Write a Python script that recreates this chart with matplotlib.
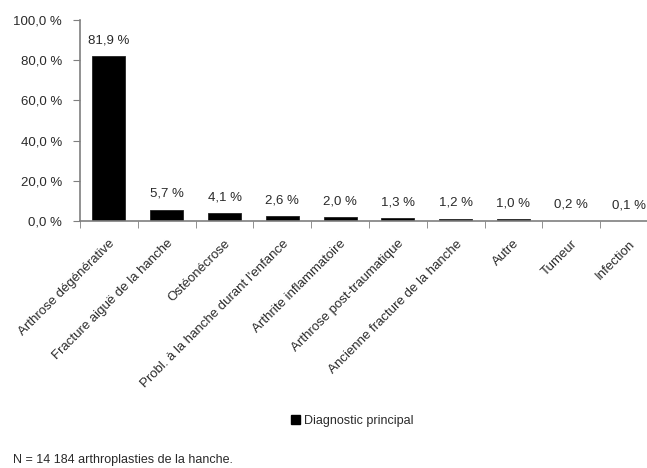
import matplotlib
matplotlib.use("Agg")
import matplotlib.pyplot as plt
import numpy as np
from matplotlib.patches import Patch

categories = ["Arthrose dégénérative", "Fracture aiguë de la hanche", "Ostéonécrose",
              "Probl. à la hanche durant l'enfance", "Arthrite inflammatoire",
              "Arthrose post-traumatique", "Ancienne fracture de la hanche",
              "Autre", "Tumeur", "Infection"]
values = [81.9, 5.7, 4.1, 2.6, 2.0, 1.3, 1.2, 1.0, 0.2, 0.1]
value_labels = ["81,9 %", "5,7 %", "4,1 %", "2,6 %", "2,0 %", "1,3 %", "1,2 %", "1,0 %", "0,2 %", "0,1 %"]
yticks = [0, 20, 40, 60, 80, 100]
ytick_labels = ["0,0 %", "20,0 %", "40,0 %", "60,0 %", "80,0 %", "100,0 %"]
series_name = "Diagnostic principal"
footnote = "N = 14 184 arthroplasties de la hanche."

plt.rcParams['font.family'] = ['Liberation Sans', 'DejaVu Sans']
txt = '#2a2a2a'
axc = '#7f7f7f'

fig = plt.figure(figsize=(6.47, 4.68), dpi=100)
ax = fig.add_axes([80/647, 1-221/468, (658-80)/647, (221-20)/468])

x = np.arange(len(categories))
ax.bar(x, values, width=0.57, color='black', edgecolor='#222222', linewidth=0.6)
for xi, v, lab in zip(x, values, value_labels):
    ax.annotate(lab, (xi, v), xytext=(0, 7), textcoords='offset points',
                ha='center', va='bottom', fontsize=9.5, color=txt)

ax.set_xlim(-0.5, len(categories) - 0.5)
ax.set_ylim(0, 100)
ax.set_yticks(yticks)
ax.set_yticklabels(ytick_labels, fontsize=9.5, color=txt)
ax.set_xticks(x)
ax.set_xticklabels(categories, rotation=45, ha='right', va='top',
                   rotation_mode='anchor', fontsize=9.5, color=txt)
ax.tick_params(axis='x', which='major', length=0, pad=12)
ax.set_xticks(np.arange(len(categories)) - 0.5, minor=True)
ax.tick_params(axis='x', which='minor', length=5, color=axc, direction='out')
ax.tick_params(axis='y', length=5, color=axc, direction='out', pad=8)

for s in ['top', 'right']:
    ax.spines[s].set_visible(False)
for s in ['left', 'bottom']:
    ax.spines[s].set_color(axc)
    ax.spines[s].set_linewidth(1.2)

fig.legend(handles=[Patch(facecolor='black', edgecolor='black')], labels=[series_name],
           loc='center', bbox_to_anchor=(352/647, 1-421/468), frameon=False,
           fontsize=9, handlelength=0.7, handleheight=0.7, handletextpad=0.3,
           labelcolor=txt)
fig.text(13/647, 1-460/468, footnote, fontsize=9, color=txt, ha='left', va='center')

fig.savefig("out.png", dpi=100)
